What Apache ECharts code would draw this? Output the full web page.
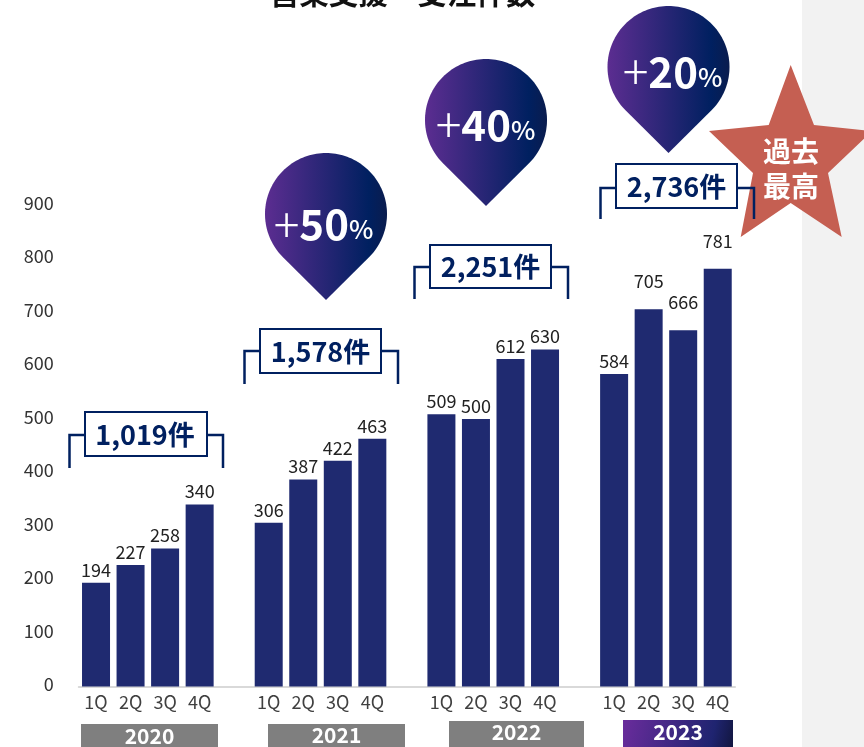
<!DOCTYPE html>
<html><head><meta charset="utf-8">
<style>html,body{margin:0;padding:0;background:#fff;overflow:hidden}#c{width:864px;height:747px}</style>
<script src="https://cdn.jsdelivr.net/npm/echarts@6/dist/echarts.min.js"></script>
</head><body><div id="c"></div>
<script>
const title = '営業支援　受注件数';
const quarters = ['1Q','2Q','3Q','4Q','','1Q','2Q','3Q','4Q','','1Q','2Q','3Q','4Q','','1Q','2Q','3Q','4Q'];
const orders = [194,227,258,340,null,306,387,422,463,null,509,500,612,630,null,584,705,666,781];
const yearLabels = ['2020','2021','2022','2023'];
const totals = ['1,019件','1,578件','2,251件','2,736件'];
const growth = ['50','40','20'];
const starText = '過去\n最高';
const raisedLabels = {16:-15, 17:-15, 18:-15};

const font = '"Noto Sans CJK JP","Noto Sans",sans-serif';
const navy = '#002060';
const chart = echarts.init(document.getElementById('c'), null, {renderer:'canvas'});
const g = [];
g.push({type:'rect', z:0, shape:{x:802,y:0,width:62,height:747}, style:{fill:'#f2f2f2'}});
g.push({type:'text', z:5, style:{x:402.5,y:-22,text:title,font:'bold 29.5px '+font,fill:'#111',textAlign:'center',textVerticalAlign:'top'}});

// year strips
const grad = {type:'linear',x:0,y:0,x2:1,y2:1,colorStops:[{offset:0,color:'#6a2c9c'},{offset:.8,color:'#1f2470'},{offset:1,color:'#12163f'}]};
[[81,724,137,23,736],[268,724,137,23,735],[449,721,135,26,732],[623,720,110,27,732]].forEach((r,i)=>{
  g.push({type:'rect',z:5,shape:{x:r[0],y:r[1],width:r[2],height:r[3]},style:{fill:i===3?grad:'#7f7f7f'}});
  g.push({type:'text',z:6,style:{x:r[0]+r[2]/2,y:r[4],text:yearLabels[i],font:'bold 21px '+font,fill:'#fff',textAlign:'center',textVerticalAlign:'middle'}});
});

// total brackets
[[85,412,122,44,69.5,223,435,468,145,435],[260,329,121,44,244.5,398,351,384,320.5,352],[430,245,121,43,414.5,568,267,299,490.5,266.5],[616,164,121,44,600.5,754,188,219,676.5,186.5]].forEach((b,i)=>{
  g.push({type:'polyline',z:i===3?9:5,shape:{points:[[b[4],b[7]],[b[4],b[6]],[b[5],b[6]],[b[5],b[7]]]},style:{stroke:navy,lineWidth:2.5,fill:null}});
  g.push({type:'rect',z:i===3?9:6,shape:{x:b[0],y:b[1],width:b[2],height:b[3]},style:{fill:'#fff',stroke:navy,lineWidth:2}});
  g.push({type:'text',z:i===3?10:7,style:{x:b[8],y:b[9],text:totals[i],font:'bold 27px '+font,fill:navy,textAlign:'center',textVerticalAlign:'middle'}});
});

// growth pins
function pinPoints(cx,cy,r,d){
  const a=Math.acos(r/d), pts=[[cx,cy+d]];
  const start=Math.PI/2+a, end=Math.PI/2-a+2*Math.PI;
  for(let k=0;k<=120;k++){const t=start+(end-start)*k/120; pts.push([cx+r*Math.cos(t),cy+r*Math.sin(t)]);}
  return pts;
}
const pinGrad={type:'linear',x:0,y:0,x2:1,y2:0,colorStops:[{offset:0,color:'#5c2d91'},{offset:.85,color:'#002060'},{offset:1,color:'#0a1c4e'}]};
[[326,214,323.5,224.5],[486,120,485.5,125],[668.5,67,672.5,72]].forEach((p,i)=>{
  g.push({type:'polygon',z:5,shape:{points:pinPoints(p[0],p[1],61,86)},style:{fill:pinGrad}});
  g.push({type:'text',z:6,style:{x:p[2],y:p[3],text:`{p|+}{n|${growth[i]}}{u|%}`,textAlign:'center',textVerticalAlign:'middle',
    rich:{p:{font:'300 48px '+font,fill:'#fff',verticalAlign:'middle'},n:{font:'bold 42px '+font,fill:'#fff',verticalAlign:'middle'},u:{font:'500 26px '+font,fill:'#fff',verticalAlign:'bottom',padding:[0,0,6,0]}}}});
});

// star
g.push({type:'polygon',z:8,shape:{points:[[790.7,65],[814,125],[872,131],[828,173],[841.7,237],[790.7,203],[740.7,237],[753,173],[709,131],[768.7,125]]},style:{fill:'#c55f52'}});
g.push({type:'text',z:10,style:{x:791,y:169,text:starText,font:'bold 28px '+font,lineHeight:35,fill:'#fff',textAlign:'center',textVerticalAlign:'middle'}});

chart.setOption({
  animation:false,
  backgroundColor:'#fff',
  grid:{left:78.75,top:205,width:656.25,height:481.5,containLabel:false},
  xAxis:{type:'category',data:quarters,boundaryGap:true,
    axisLine:{show:true,lineStyle:{color:'#d9d9d9',width:2}},axisTick:{show:false},
    axisLabel:{interval:0,margin:7,fontFamily:font,fontSize:18,color:'#404040'}},
  yAxis:{type:'value',min:0,max:900,interval:100,
    axisLine:{show:false},axisTick:{show:false},splitLine:{show:false},
    axisLabel:{margin:25,formatter:'{a|{value}}',verticalAlign:'middle',
      rich:{a:{fontFamily:font,fontSize:18,color:'#333',padding:[0,0,4,0]}}}},
  series:[{type:'bar',barWidth:28,z:2,
    data:orders.map((v,i)=>raisedLabels[i]?{value:v,label:{offset:[0,raisedLabels[i]]}}:v),
    itemStyle:{color:'#1f2a70'},
    label:{show:true,position:'top',distance:4,fontFamily:font,fontSize:18,color:'#222'}}],
  graphic:{elements:g}
});
</script></body></html>
